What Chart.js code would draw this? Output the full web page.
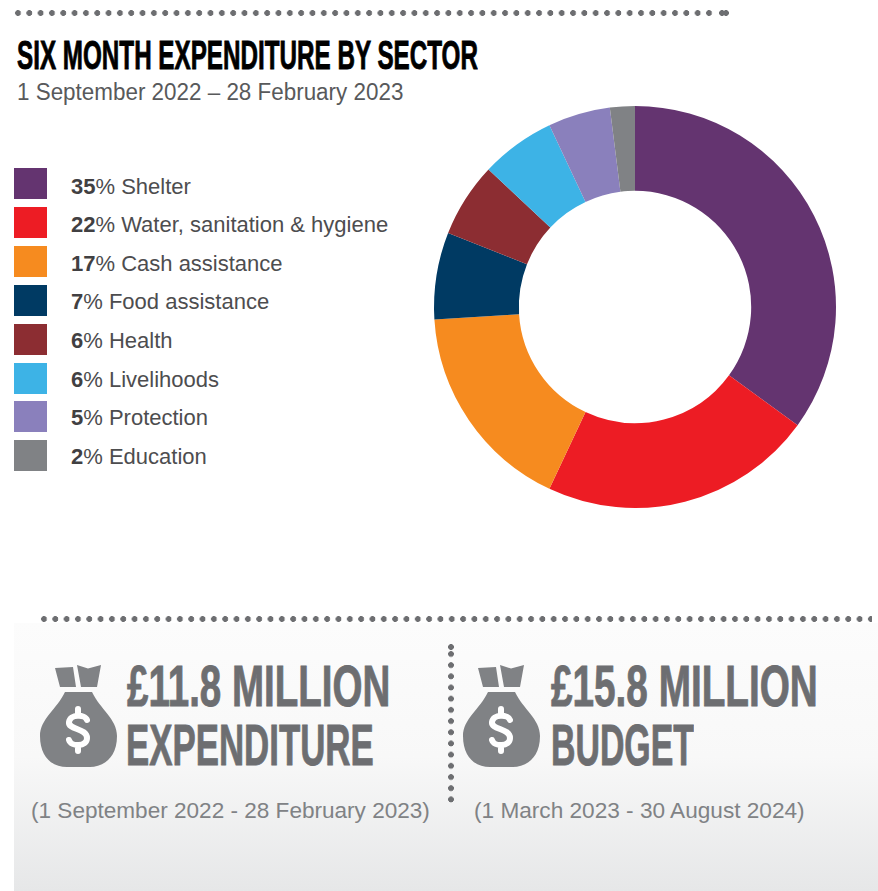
<!DOCTYPE html>
<html>
<head>
<meta charset="utf-8">
<script src="https://cdn.jsdelivr.net/npm/chart.js@4/dist/chart.umd.min.js"></script>
<style>
html, body { margin: 0; padding: 0; background: #fff; }
body { position: relative; width: 878px; height: 891px; overflow: hidden; font-family: "Liberation Sans", sans-serif; }
.abs { position: absolute; white-space: nowrap; transform-origin: 0 0; line-height: 1; }
.dotsH { position: absolute; height: 8px; background: radial-gradient(circle at 4px 4px, #6d6e71 2.6px, transparent 3.2px) 0 0 / 11.33px 8px repeat-x; }
.dotsV { position: absolute; width: 8px; background: radial-gradient(circle at 4px 4px, #6d6e71 2.6px, transparent 3.2px) 0 0 / 8px 11.2px repeat-y; }
.panel { position: absolute; left: 14px; top: 623px; width: 864px; height: 268px; background: linear-gradient(#fcfcfc 0%, #f8f8f8 50%, #e6e7e8 100%); }
.big { font-family: "Liberation Sans Narrow", "Liberation Sans", sans-serif; font-weight: bold; color: #6d6e71; font-size: 58px; -webkit-text-stroke: 0.9px #6d6e71; }
.note { color: #808285; font-size: 22px; }
#title { font-family: "Liberation Sans Narrow", "Liberation Sans", sans-serif; font-weight: bold; color: #000; font-size: 41px; -webkit-text-stroke: 0.9px #000; }
#subtitle { color: #58595b; font-size: 23px; }
.swatch { position: absolute; left: 14px; width: 33px; height: 31px; }
.legendText { color: #4d4d4f; font-size: 22px; }
.legendText b { color: #414042; }
#chart { position: absolute; left: 432.5px; top: 105px; }
.bag { position: absolute; width: 77px; height: 103px; }
</style>
</head>
<body>
<div class="dotsH" style="left:14px; top:9px; width:703px"></div>
<div class="dotsH" style="left:718px; top:9px; width:8px"></div>
<div class="dotsH" style="left:722px; top:9px; width:8px"></div>
<div class="abs" id="title" data-w="461" style="left:17px; top:35px">SIX MONTH EXPENDITURE BY SECTOR</div>
<div class="abs" id="subtitle" data-w="386" style="left:17px; top:81px">1 September 2022 – 28 February 2023</div>

<div id="legend"></div>
<canvas id="chart" width="404" height="404"></canvas>

<div class="panel"></div>
<div class="dotsH" style="left:40px; top:615px; width:832px"></div>
<div class="dotsV" style="left:447px; top:643px; height:8px"></div>
<div class="dotsV" style="left:447px; top:650px; height:154px"></div>

<svg class="bag" style="left:40px; top:664px" viewBox="0 0 77 103"><use href="#bagShape"></use></svg>
<svg class="bag" style="left:463px; top:664px" viewBox="0 0 77 103">
  <defs>
    <g id="bagShape">
      <path fill="#808285" d="M15,4 L33,3 L36,23 L20,23 Z M37,1 L48,4.5 L61,1 L57,23 L41,23 Z M25,28 L52,28 C60,45 77,55 77,72 C77,95 62,103 50,103 L27,103 C12,103 0,93 0,72 C0,55 17,45 25,28 Z"></path>
      <path fill="none" stroke="#fff" stroke-width="6" stroke-linecap="round" d="M47,56 C45,50 30,50 29,58 C28,66 47,64 47,74 C47,83 31,83 29,76 M38,45 V50 M38,82 V87"></path>
    </g>
  </defs>
  <use href="#bagShape"></use>
</svg>

<div class="abs big" data-w="263" style="left:127px; top:657px">£11.8 MILLION</div>
<div class="abs big" data-w="248" style="left:126px; top:716px">EXPENDITURE</div>
<div class="abs big" data-w="267" style="left:551px; top:657px">£15.8 MILLION</div>
<div class="abs big" data-w="143" style="left:551px; top:716px">BUDGET</div>
<div class="abs note" data-w="399" style="left:31px; top:800px">(1 September 2022 - 28 February 2023)</div>
<div class="abs note" data-w="331" style="left:474px; top:800px">(1 March 2023 - 30 August 2024)</div>

<script>
const sectors = ['Shelter', 'Water, sanitation & hygiene', 'Cash assistance', 'Food assistance', 'Health', 'Livelihoods', 'Protection', 'Education']
const shares = [35, 22, 17, 7, 6, 6, 5, 2]
const sectorColors = ['#643470', '#ed1c24', '#f68b1f', '#003a63', '#8c2d32', '#3db3e6', '#8a80bc', '#808285']

const legendElement = document.querySelector('#legend')
const swatchTop = 168
const swatchStep = 38.9
const labelTop = 175.5
const labelStep = 38.6

sectors.forEach((sector, i) => {
    const swatch = document.createElement('div')
    swatch.className = 'swatch'
    swatch.style.top = (swatchTop + i * swatchStep) + 'px'
    swatch.style.background = sectorColors[i]
    legendElement.appendChild(swatch)

    const label = document.createElement('div')
    label.className = 'abs legendText'
    label.style.left = '71px'
    label.style.top = (labelTop + i * labelStep) + 'px'
    label.innerHTML = '<b>' + shares[i] + '</b>% ' + sector.replace('&', '&amp;')
    legendElement.appendChild(label)
})

// squeeze each text line to the width it has in the picture
document.querySelectorAll('[data-w]').forEach(element => {
    const scale = +element.dataset.w / element.offsetWidth
    element.style.transform = 'scaleX(' + scale + ')'
})

new Chart(document.querySelector('#chart').getContext('2d'), {
    type: 'doughnut',
    data: {
        labels: sectors,
        datasets: [{
            data: shares,
            backgroundColor: sectorColors,
            borderWidth: 0
        }]
    },
    options: {
        responsive: false,
        animation: false,
        cutout: '57.8%',
        layout: { padding: 1 },
        plugins: {
            legend: { display: false },
            tooltip: { enabled: false }
        }
    }
})
</script>
</body>
</html>
